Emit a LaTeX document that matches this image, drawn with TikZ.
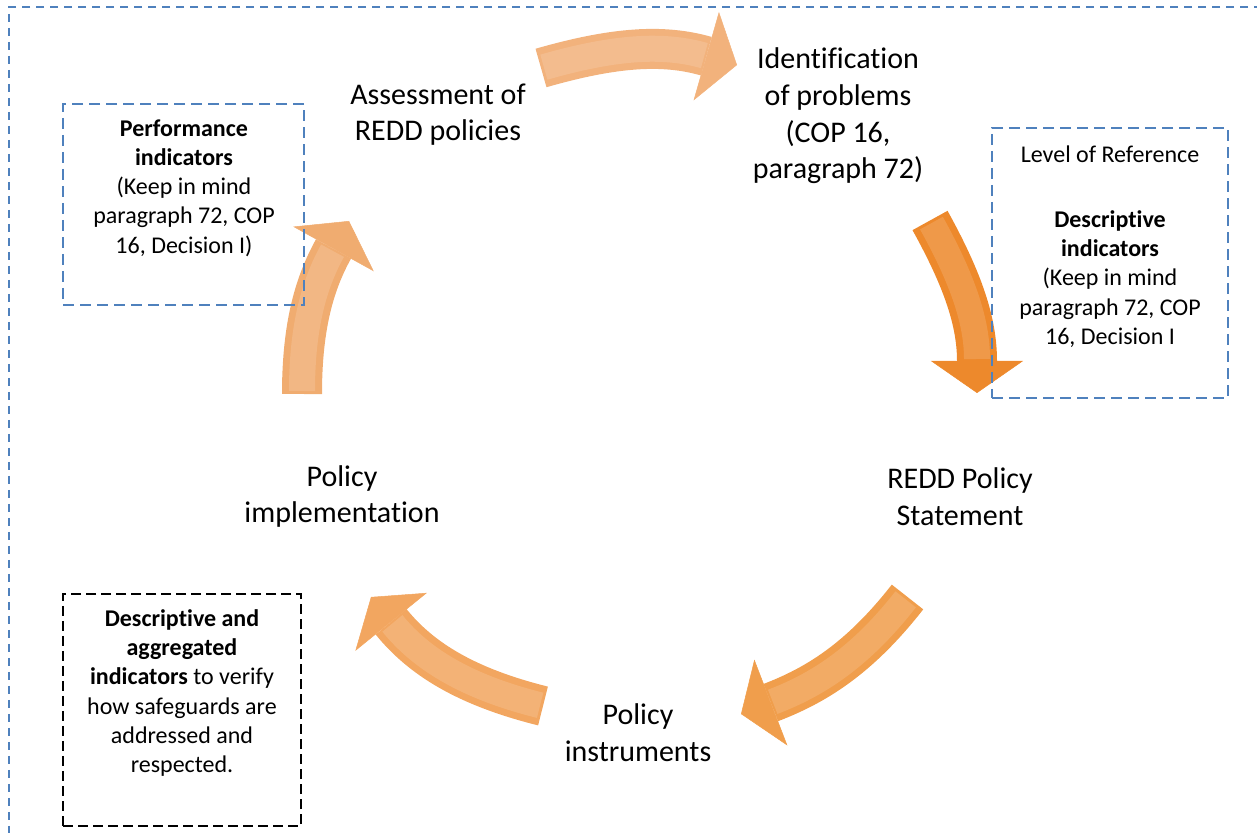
\documentclass[tikz,border=0pt]{standalone}
\usepackage{fontspec}
\setmainfont{Carlito}[Ligatures={NoCommon,NoContextual}]
\usetikzlibrary{arrows.meta,positioning}
\definecolor{offblue}{RGB}{79,129,189}
\definecolor{peachA}{RGB}{242,178,124}
\definecolor{peachB}{RGB}{240,172,112}
\definecolor{peachC}{RGB}{242,166,96}
\definecolor{orangeD}{RGB}{240,158,76}
\definecolor{orangeE}{RGB}{237,137,44}

\begin{document}
\begin{tikzpicture}[x=1pt,y=1pt,
    stage/.style={align=center, inner sep=0pt, font=\fontsize{30}{36.6}\selectfont},
    note/.style={align=center, inner sep=0pt, font=\fontsize{24}{29.3}\selectfont},
    bluebox/.style={draw=offblue, line width=2.2pt, dash pattern=on 11pt off 6pt},
    blackbox/.style={draw=black, line width=2.2pt, dash pattern=on 10pt off 5pt},
    cyc/.style={line width=40pt, -{Triangle[width=92pt,length=32pt,line width=0.5pt]},
        postaction={draw=white, draw opacity=0.14, line width=26pt, -, shorten <=3pt, shorten >=34pt}}]
    \useasboundingbox (0,0) rectangle (1257,832);

    % outer frame
    \draw[offblue, line width=2pt, dash pattern=on 8pt off 6pt] (1262,825) -- (9,825) -- (9,-6);

    % stages of the cycle
    \node[stage] (assess) at (438,717.5) {Assessment of\\REDD policies};
    \node[stage] (ident) at (838,716) {Identification\\of problems\\(COP 16,\\paragraph 72)};
    \node[stage] (stmt) at (960,335.5) {REDD Policy\\Statement};
    \node[stage] (instr) at (638,99.5) {Policy\\instruments};
    \node[stage] (impl) at (342,335.5) {Policy\\implementation};

    % arrow ends
    \coordinate (a1s) at (541,764);   \coordinate (a1e) at (737,767);
    \coordinate (a2s) at (930,611.5); \coordinate (a2e) at (977,439);
    \coordinate (a3s) at (907.5,235); \coordinate (a3e) at (741,118);
    \coordinate (a4s) at (543,126);   \coordinate (a4e) at (371,235);
    \coordinate (a5s) at (302,438);   \coordinate (a5e) at (349,611);

    % cycle arrows
    \draw[cyc, peachA] (a1s) to[out=16,in=164] (a1e);
    \draw[cyc, orangeE] (a2s) to[out=-61,in=90] (a2e);
    \draw[cyc, orangeD] (a3s) to[out=232,in=21] (a3e);
    \draw[cyc, peachC] (a4s) to[out=166,in=309] (a4e);
    \draw[cyc, peachB] (a5s) to[out=90,in=241] (a5e);

    % indicator boxes
    \node[bluebox, minimum width=241pt, minimum height=201pt] (perfbox) at (183.5,627.5) {};
    \node[note] (perf) at (184,644) {\textbf{Performance}\\\textbf{indicators}\\(Keep in mind\\paragraph 72, COP\\16, Decision I)};

    \node[bluebox, minimum width=236pt, minimum height=270pt] (lvlbox) at (1110,569) {};
    \node[note] (lvl) at (1110,585.5) {Level of Reference\\[36pt]\textbf{Descriptive}\\\textbf{indicators}\\(Keep in mind\\paragraph 72, COP\\16, Decision I};

    \node[blackbox, minimum width=238pt, minimum height=232pt] (aggbox) at (182,122) {};
    \node[note] (agg) at (182,139) {\textbf{Descriptive and}\\\textbf{aggregated}\\\textbf{indicators} to verify\\how safeguards are\\addressed and\\respected.};
\end{tikzpicture}
\end{document}
